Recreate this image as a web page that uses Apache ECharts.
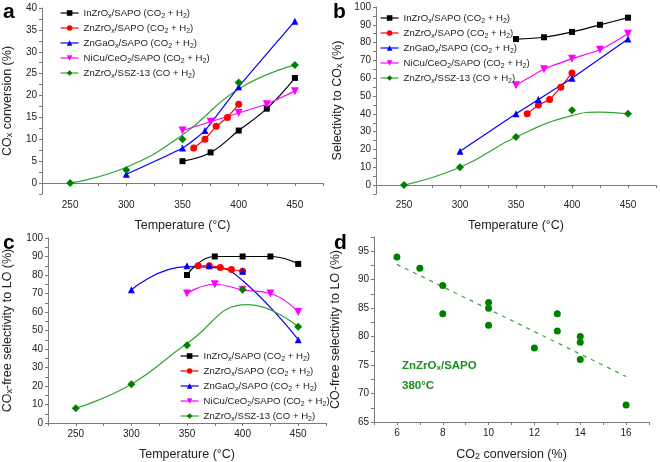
<!DOCTYPE html>
<html>
<head>
<meta charset="utf-8">
<script src="https://cdn.jsdelivr.net/npm/echarts@6/dist/echarts.min.js"></script>
<style>
  html, body { margin: 0; padding: 0; background: #fff; }
  #chart { width: 660px; height: 462px; }
</style>
</head>
<body>
<div id="chart"></div>
<script>
// temperatures of each catalyst series (°C)
const tInZr = [350, 375, 400, 425, 450]
const tZnZr = [360, 370, 380, 390, 400]
const tZnGa = [300, 350, 370, 400, 450]
const tNiCu = [350, 375, 400, 425, 450]
const tSSZ = [250, 300, 350, 400, 450]

// panel a: COx conversion (%)
const convInZr = [5, 7, 12, 17, 24]
const convZnZr = [8, 10, 13, 15, 18]
const convZnGa = [2, 8, 12, 22, 37]
const convNiCu = [12, 14, 16, 18, 21]
const convSSZ = [0, 3, 10, 23, 27]
const convSSZFitT = [250, 300, 350, 400, 450]
const convSSZFit = [0, 3.6, 11, 21.5, 27]

// panel b: selectivity to COx (%)
const selInZr = [82, 83, 86, 90, 94]
const selZnZr = [40, 45, 48, 55, 63]
const selZnGa = [19, 40, 48, 60, 82]
const selNiCu = [56, 65, 71, 76, 85]
const selSSZ = [0, 10, 27, 42, 40]
const selSSZFitT = [250, 300, 350, 400, 425, 450]
const selSSZFit = [0, 10, 27, 39, 41, 40]

// panel c: COx-free selectivity to LO (%)
const loInZr = [80, 90, 90, 90, 86]
const loZnZr = [85, 85, 84, 83, 82]
const loZnGa = [72, 85, 85, 82, 45]
const loNiCu = [70, 75, 72, 70, 60]
const loSSZ = [8, 21, 42, 72, 52]
const loZnGaFitT = [300, 350, 375, 400, 450]
const loZnGaFit = [72, 84.5, 84, 77, 45]
const loSSZFitT = [250, 300, 350, 405, 450]
const loSSZFit = [8, 21, 43, 64, 52]

// panel d: ZnZrOx/SAPO at 380 °C
const dConv = [6, 7, 8, 8, 10, 10, 10, 12, 13, 13, 14, 14, 14, 16]
const dSel = [94, 92, 89, 84, 86, 85, 82, 78, 84, 81, 80, 79, 76, 68]
const dTrendX = [6, 16]
const dTrendY = [92.7, 73]

const names = [
  'InZrOx/SAPO (CO2 + H2)',
  'ZnZrOx/SAPO (CO2 + H2)',
  'ZnGaOx/SAPO (CO2 + H2)',
  'NiCu/CeO2/SAPO (CO2 + H2)',
  'ZnZrOx/SSZ-13 (CO + H2)'
]
const richNames = {
  'InZrOx/SAPO (CO2 + H2)': 'InZrO{s|x}/SAPO (CO{s|2} + H{s|2})',
  'ZnZrOx/SAPO (CO2 + H2)': 'ZnZrO{s|x}/SAPO (CO{s|2} + H{s|2})',
  'ZnGaOx/SAPO (CO2 + H2)': 'ZnGaO{s|x}/SAPO (CO{s|2} + H{s|2})',
  'NiCu/CeO2/SAPO (CO2 + H2)': 'NiCu/CeO{s|2}/SAPO (CO{s|2} + H{s|2})',
  'ZnZrOx/SSZ-13 (CO + H2)': 'ZnZrO{s|x}/SSZ-13 (CO + H{s|2})'
}

const colors = ['#000000', '#ff0000', '#0000ff', '#ff00ff', '#008000']
const symbols = ['rect', 'circle', 'triangle', 'path://M0,0 L10,0 L5,9 Z', 'diamond']
const symbolSizes = [6, 7, 7, 8, 8]
const fitGreen = '#33a533'

const FONT = 'Liberation Sans, Arial, sans-serif'
const subRich = {
  s: { fontSize: 7, lineHeight: 10, verticalAlign: 'bottom', fontFamily: FONT }
}

const pairs = (xs, ys) => xs.map((x, i) => [x, ys[i]])

const labelEvery = (step) => (v) => (Math.abs(v / step - Math.round(v / step)) < 1e-6 ? String(v) : '')

const axisBase = {
  axisLine: { lineStyle: { color: '#7a7a7a', width: 1 } },
  axisTick: { length: 3, lineStyle: { color: '#7a7a7a' } },
  splitLine: { show: false },
  nameLocation: 'middle',
  nameTextStyle: {
    color: '#222', fontSize: 12.5, fontFamily: FONT,
    rich: {
      s: { fontSize: 9, lineHeight: 10, verticalAlign: 'bottom', fontFamily: FONT, color: '#222' }
    }
  }
}

const tempAxis = (grid) => ({
  ...axisBase,
  type: 'value',
  gridIndex: grid,
  min: 225,
  max: 475,
  interval: 25,
  name: 'Temperature (°C)',
  nameGap: 25,
  axisLabel: { color: '#222', fontSize: 10, fontFamily: FONT, formatter: labelEvery(50), margin: 6 }
})

const valueAxis = (grid, min, max, interval, step, name, gap) => ({
  ...axisBase,
  type: 'value',
  gridIndex: grid,
  min, max, interval,
  name,
  nameGap: gap,
  axisLabel: { color: '#222', fontSize: 10, fontFamily: FONT, formatter: labelEvery(step), margin: 5 }
})

// builds the five catalyst series of one panel
const panelSeries = (grid, values, smooth, fits) => {
  const xs = [tInZr, tZnZr, tZnGa, tNiCu, tSSZ]
  const out = []
  values.forEach((ys, i) => {
    const hasFit = fits && fits[i]
    out.push({
      name: names[i],
      type: 'line',
      xAxisIndex: grid,
      yAxisIndex: grid,
      data: pairs(xs[i], ys),
      symbol: symbols[i],
      symbolSize: symbolSizes[i],
      smooth: smooth[i],
      itemStyle: { color: colors[i] },
      lineStyle: { color: i === 4 ? fitGreen : colors[i], width: 1.2, opacity: hasFit ? 0 : 1 },
      z: 3
    })
    if (hasFit) {
      out.push({
        name: 'fit-' + grid + '-' + i,
        type: 'line',
        xAxisIndex: grid,
        yAxisIndex: grid,
        data: pairs(fits[i][0], fits[i][1]),
        showSymbol: false,
        symbol: 'none',
        smooth: 0.5,
        lineStyle: { color: i === 4 ? fitGreen : colors[i], width: 1.2 },
        z: 2
      })
    }
  })
  return out
}

const legendFor = (left, top) => ({
  left, top,
  orient: 'vertical',
  itemWidth: 18,
  itemHeight: 7,
  itemGap: 1,
  padding: 0,
  data: names.map((n, i) => ({
    name: n,
    lineStyle: { color: i === 4 ? fitGreen : colors[i], width: 1.2, opacity: 1 }
  })),
  formatter: (n) => richNames[n],
  textStyle: { color: '#222', fontSize: 9.6, lineHeight: 14, fontFamily: FONT, rich: subRich }
})

const chart = echarts.init(document.getElementById('chart'))

const option = {
  animation: false,
  grid: [
    { left: 42, top: 8, width: 281, height: 186 },
    { left: 376, top: 7, width: 280, height: 187 },
    { left: 41, top: 238, width: 285, height: 187 },
    { left: 374, top: 237, width: 275, height: 188 }
  ],
  xAxis: [
    tempAxis(0),
    tempAxis(1),
    tempAxis(2),
    {
      ...axisBase,
      type: 'value', gridIndex: 3, min: 5, max: 17, interval: 1,
      name: 'CO{s|2} conversion (%)', nameGap: 26,
      axisLabel: { color: '#222', fontSize: 10, fontFamily: FONT, formatter: labelEvery(2), margin: 6 }
    }
  ],
  yAxis: [
    valueAxis(0, -2.5, 40, 2.5, 5, 'CO{s|x} conversion (%)', 28),
    valueAxis(1, -5, 100, 5, 10, 'Selectivity to CO{s|x} (%)', 32),
    valueAxis(2, 0, 100, 5, 10, 'CO{s|x}-free selectivity to LO (%)', 34),
    valueAxis(3, 65, 97.5, 2.5, 5, 'CO-free selectivity to LO (%)', 32)
  ],
  legend: [legendFor(60, 6), legendFor(380, 11), legendFor(180, 349)],
  series: [
    ...panelSeries(0, [convInZr, convZnZr, convZnGa, convNiCu, convSSZ],
      [0.4, 0, 0.15, 0, 0.5],
      [null, null, null, null, [convSSZFitT, convSSZFit]]),
    ...panelSeries(1, [selInZr, selZnZr, selZnGa, selNiCu, selSSZ],
      [0.3, 0, 0, 0.2, 0.5],
      [null, null, null, null, [selSSZFitT, selSSZFit]]),
    ...panelSeries(2, [loInZr, loZnZr, loZnGa, loNiCu, loSSZ],
      [0.5, 0.3, 0.5, 0.5, 0.5],
      [null, null, [loZnGaFitT, loZnGaFit], null, [loSSZFitT, loSSZFit]]),
    {
      name: 'trend',
      type: 'line',
      xAxisIndex: 3, yAxisIndex: 3,
      data: pairs(dTrendX, dTrendY),
      symbol: 'none',
      lineStyle: { color: '#3daa3d', width: 1.3, type: [4, 5] },
      z: 2
    },
    {
      name: 'ZnZrOx/SAPO 380 °C',
      type: 'scatter',
      xAxisIndex: 3, yAxisIndex: 3,
      data: pairs(dConv, dSel),
      symbol: 'circle',
      symbolSize: 7,
      itemStyle: { color: '#008000', opacity: 1 },
      z: 3
    }
  ],
  graphic: [
    { type: 'text', left: 3, top: 2, style: { text: 'a', font: 'bold 21px ' + FONT, fill: '#000' } },
    { type: 'text', left: 333, top: 2, style: { text: 'b', font: 'bold 21px ' + FONT, fill: '#000' } },
    { type: 'text', left: 3, top: 233, style: { text: 'c', font: 'bold 21px ' + FONT, fill: '#000' } },
    { type: 'text', left: 334, top: 233, style: { text: 'd', font: 'bold 21px ' + FONT, fill: '#000' } },
    {
      type: 'text', left: 402, top: 360,
      style: {
        text: 'ZnZrO{s|x}/SAPO',
        font: 'bold 11.5px ' + FONT, fill: '#1a8f1a',
        rich: { s: { fontSize: 8, fontWeight: 'bold', lineHeight: 10, verticalAlign: 'bottom', fill: '#1a8f1a' } }
      }
    },
    {
      type: 'text', left: 402, top: 380,
      style: { text: '380°C', font: 'bold 11.5px ' + FONT, fill: '#1a8f1a' }
    }
  ]
}

chart.setOption(option)
</script>
</body>
</html>
